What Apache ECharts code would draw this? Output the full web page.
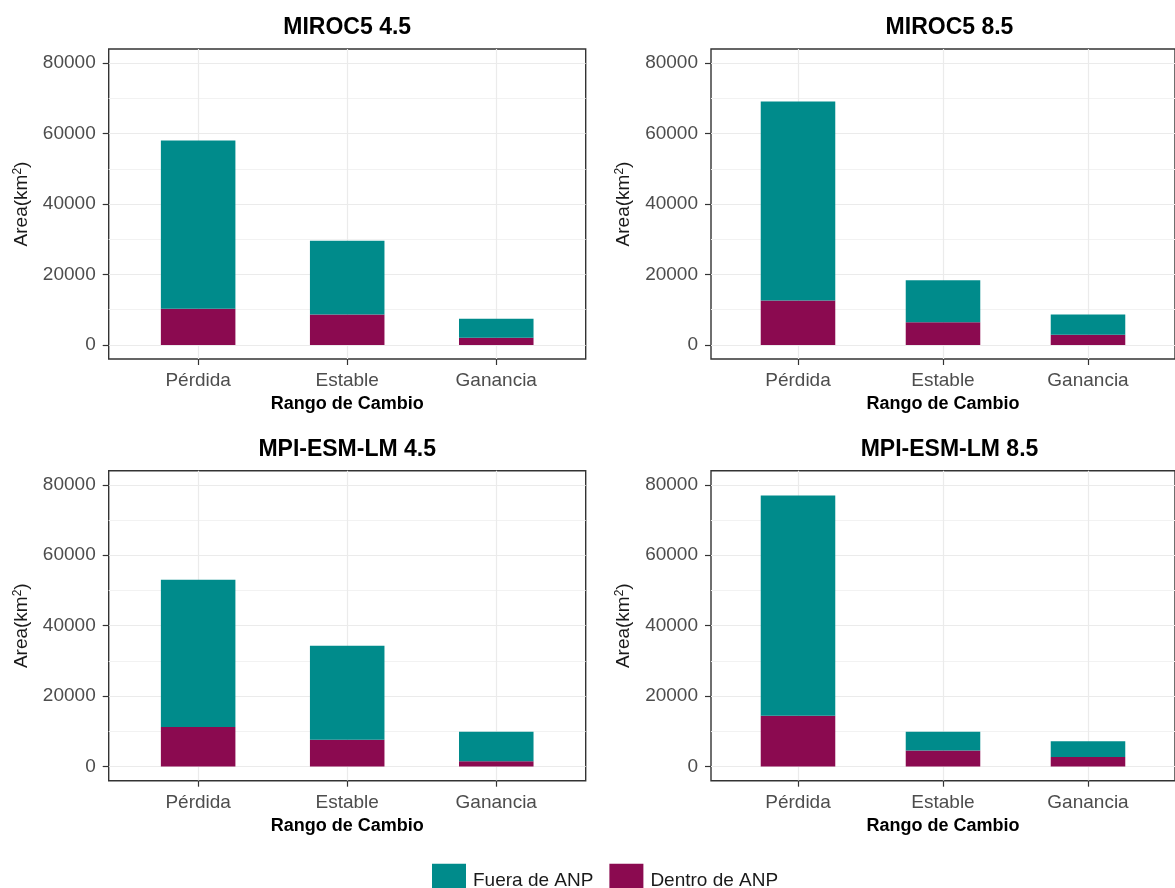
<!DOCTYPE html>
<html>
<head>
<meta charset="utf-8">
<script src="https://cdn.jsdelivr.net/npm/echarts@6/dist/echarts.min.js"></script>
<style>
  html, body { margin: 0; padding: 0; background: #ffffff; }
  #chart { width: 1175px; height: 888px; }
</style>
</head>
<body>
<div id="chart"></div>
<script>
// Change classes on the x axis
const categories = ['Pérdida', 'Estable', 'Ganancia'];
// Y tick labels (km²)
const yTickLabels = [0, 20000, 40000, 60000, 80000];

// Panel titles
const panelTitles = ['MIROC5 4.5', 'MIROC5 8.5', 'MPI-ESM-LM 4.5', 'MPI-ESM-LM 8.5'];

// Area outside protected areas (Fuera de ANP), km²
const miroc45Fuera = [47700, 21000, 5400];
const miroc85Fuera = [56500, 11950, 5750];
const mpi45Fuera   = [41800, 26670, 8420];
const mpi85Fuera   = [62500, 5390, 4450];

// Area inside protected areas (Dentro de ANP), km²
const miroc45Dentro = [10300, 8600, 2000];
const miroc85Dentro = [12600, 6400, 2850];
const mpi45Dentro   = [11250, 7660, 1510];
const mpi85Dentro   = [14470, 4540, 2740];

const fueraSets  = [miroc45Fuera, miroc85Fuera, mpi45Fuera, mpi85Fuera];
const dentroSets = [miroc45Dentro, miroc85Dentro, mpi45Dentro, mpi85Dentro];

const COLOR_FUERA = '#008B8B';
const COLOR_DENTRO = '#8B0A50';
const FONT = '"Liberation Sans", Arial, sans-serif';

// Panel frames (the plotting panel including the 5% expansion)
const frameW = 477, frameH = 310;
const frames = [
  { left: 108.7, top: 49 },
  { left: 711,   top: 49 },
  { left: 108.7, top: 470.7 },
  { left: 711,   top: 470.7 }
];
// y: panel spans -4000..84000, data grid spans 0..80000
const yLo = -4000, yHi = 84000, yMin = 0, yMax = 80000;

// The discrete x scale spans 3.2 units (0.6 padding each side); 17 slots of 0.2 units
const SLOTS = 17;
const slotOf = i => 3 + 5 * i;
const slotSet = new Set(categories.map((c, i) => slotOf(i)));
const slotNames = Array.from({ length: SLOTS }, (_, k) => 'k' + k);
const slotLabel = {};
categories.forEach((c, i) => { slotLabel[slotOf(i)] = c; });
const onCat = (index) => slotSet.has(index);

function toSlots(values) {
  const arr = new Array(SLOTS).fill(null);
  values.forEach((v, i) => { arr[slotOf(i)] = v; });
  return arr;
}

const grids = [], xAxes = [], yAxes = [], series = [], titles = [];

frames.forEach((f, p) => {
  const pxPerUnit = frameH / (yHi - yLo);
  const unitW = frameW / 3.2;
  const dataTop = f.top + (yHi - yMax) * pxPerUnit;
  const dataH = (yMax - yMin) * pxPerUnit;

  // frame grid: border, vertical grid lines, x ticks & labels
  grids.push({
    left: f.left, top: f.top, width: frameW, height: frameH,
    show: true, borderColor: '#333333', borderWidth: 1.4, backgroundColor: 'transparent',
    containLabel: false
  });
  // data grid: 0..80000
  grids.push({
    left: f.left, top: dataTop, width: frameW, height: dataH,
    show: false, containLabel: false
  });
  const gFrame = 2 * p, gData = 2 * p + 1;

  xAxes.push({
    gridIndex: gFrame, type: 'category', boundaryGap: false, data: slotNames,
    axisLine: { show: false },
    axisTick: { show: true, interval: onCat, length: 6, lineStyle: { color: '#333333', width: 1.2 } },
    axisLabel: {
      show: true, interval: onCat, margin: 12.5,
      formatter: (v, idx) => slotLabel[idx] || '',
      color: '#4D4D4D', fontSize: 19, fontFamily: FONT
    },
    splitLine: { show: true, interval: onCat, lineStyle: { color: '#EBEBEB', width: 1.2 } },
    name: 'Rango de Cambio', nameLocation: 'middle', nameGap: 36,
    nameTextStyle: { color: '#000000', fontSize: 18, fontWeight: 'bold', fontFamily: FONT, verticalAlign: 'top' }
  });
  yAxes.push({ gridIndex: gFrame, type: 'value', min: 0, max: 1, show: false });

  xAxes.push({
    gridIndex: gData, type: 'category', boundaryGap: false, data: slotNames, show: false
  });
  yAxes.push({
    gridIndex: gData, type: 'value', min: yMin, max: yMax, interval: 20000,
    axisLine: { show: false },
    axisTick: { show: true, length: 6, lineStyle: { color: '#333333', width: 1.2 } },
    axisLabel: {
      margin: 13, color: '#4D4D4D', fontSize: 19, fontFamily: FONT,
      formatter: v => (yTickLabels.indexOf(v) >= 0 ? String(v) : '')
    },
    splitLine: { show: true, lineStyle: { color: '#EBEBEB', width: 1.2 } },
    minorTick: { show: false, splitNumber: 2 },
    minorSplitLine: { show: true, lineStyle: { color: '#F2F2F2', width: 1 } },
    name: 'Area(km{sup|2})', nameLocation: 'middle', nameGap: 77, nameRotate: 90,
    nameTextStyle: {
      color: '#1A1A1A', fontSize: 19, fontFamily: FONT,
      rich: { sup: { fontSize: 12, verticalAlign: 'top', padding: [0, 0, 8, 0], color: '#1A1A1A', fontFamily: FONT } }
    }
  });

  const barW = unitW * 0.5;
  series.push({
    name: 'Dentro de ANP', type: 'bar', stack: 'p' + p,
    xAxisIndex: gData, yAxisIndex: gData,
    barWidth: barW, data: toSlots(dentroSets[p]),
    itemStyle: { color: COLOR_DENTRO }, emphasis: { disabled: true }
  });
  series.push({
    name: 'Fuera de ANP', type: 'bar', stack: 'p' + p,
    xAxisIndex: gData, yAxisIndex: gData,
    barWidth: barW, data: toSlots(fueraSets[p]),
    itemStyle: { color: COLOR_FUERA }, emphasis: { disabled: true }
  });

  titles.push({
    text: panelTitles[p], left: f.left + frameW / 2, top: f.top - 33, textAlign: 'center',
    padding: 0,
    textStyle: { color: '#000000', fontSize: 23, fontWeight: 'bold', fontFamily: FONT }
  });
});

const chart = echarts.init(document.getElementById('chart'), null, { renderer: 'canvas' });
chart.setOption({
  animation: false,
  backgroundColor: '#ffffff',
  title: titles,
  grid: grids,
  xAxis: xAxes,
  yAxis: yAxes,
  series: series,
  legend: {
    data: ['Fuera de ANP', 'Dentro de ANP'],
    left: 427, top: 858.7,
    icon: 'rect', itemWidth: 34, itemHeight: 34, itemGap: 16,
    selectedMode: false,
    textStyle: { color: '#1A1A1A', fontSize: 19, fontFamily: FONT, padding: [0, 0, 0, 2] }
  }
});
</script>
</body>
</html>
